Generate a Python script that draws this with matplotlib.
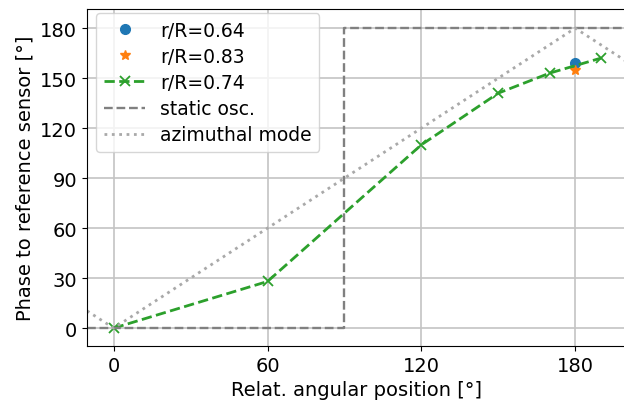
import numpy as np
import matplotlib
matplotlib.use("Agg")
import matplotlib.pyplot as plt

# measured phases
pos_064 = [180]
phase_064 = [159]
pos_083 = [180]
phase_083 = [155]
pos_074 = [0, 60, 120, 150, 170, 190]
phase_074 = [0, 28, 110, 141, 153, 162]

# reference curves
static_x = [-20, 90, 90, 220]
static_y = [0, 0, 180, 180]
azim_x = [-20, 0, 180, 220]
azim_y = [20, 0, 180, 140]

fig = plt.figure(figsize=(6.24, 4.06), dpi=100)
ax = fig.add_axes([0.139, 0.145, 0.865, 0.83])

ax.plot(pos_064, phase_064, "o", color="tab:blue", ms=7, label="r/R=0.64")
ax.plot(pos_083, phase_083, "*", color="tab:orange", ms=7, label="r/R=0.83")
ax.plot(pos_074, phase_074, "x--", color="tab:green", lw=2, ms=7, mew=1.3,
        label="r/R=0.74")
ax.plot(static_x, static_y, "--", color="grey", lw=1.7, label="static osc.")
ax.plot(azim_x, azim_y, ":", color="darkgrey", lw=2, label="azimuthal mode")

ax.set_xlim(-10.5, 200)
ax.set_ylim(-10.8, 191.4)
ax.set_xticks([0, 60, 120, 180])
ax.set_yticks([0, 30, 60, 90, 120, 150, 180])
ax.tick_params(labelsize=14)
ax.grid(True, color="#c4c4c4", lw=1.2)
ax.set_xlabel("Relat. angular position [°]", fontsize=14)
ax.set_ylabel("Phase to reference sensor [°]", fontsize=14)
ax.legend(loc="upper left", bbox_to_anchor=(0.018, 0.988), borderaxespad=0,
          fontsize=13.5, labelspacing=0.38, handlelength=2.2)

fig.savefig("out.png", dpi=100)
